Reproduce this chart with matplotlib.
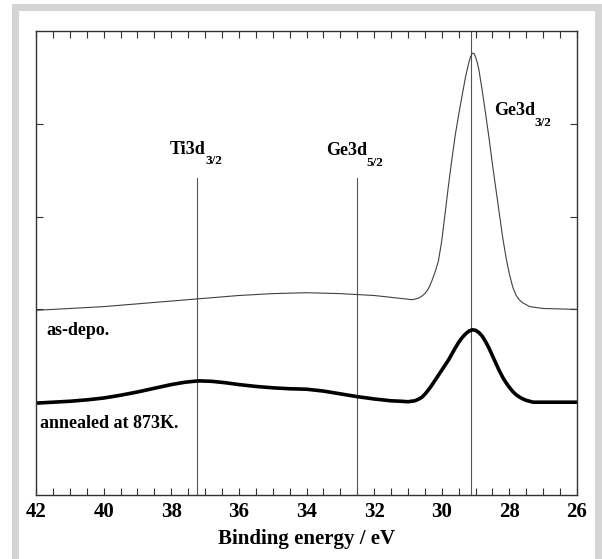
import matplotlib
matplotlib.use("Agg")
import matplotlib.pyplot as plt
from matplotlib.patches import Rectangle

plt.rcParams['font.family'] = ['Liberation Serif', 'DejaVu Serif']
plt.rcParams['font.weight'] = 'bold'

# as-deposited spectrum (binding energy in eV, intensity in arb. units)
asdepo_e = [42.0, 41.0, 40.0, 39.0, 38.0, 37.0, 36.0, 35.0, 34.0, 33.0,
            32.5, 32.0, 31.5, 31.0, 30.9, 30.8, 30.7, 30.6, 30.5, 30.4,
            30.3, 30.2, 30.1, 30.0, 29.9, 29.8, 29.7, 29.6, 29.5, 29.4,
            29.3, 29.2, 29.15, 29.1, 29.05, 29.0, 28.95, 28.9, 28.8, 28.7,
            28.6, 28.5, 28.4, 28.3, 28.2, 28.1, 28.0, 27.9, 27.8, 27.7,
            27.6, 27.5, 27.4, 27.2, 27.0, 26.0]
asdepo_i = [1.99, 2.01, 2.03, 2.06, 2.09, 2.12, 2.15, 2.17, 2.18, 2.17,
            2.16, 2.15, 2.13, 2.11, 2.105, 2.11, 2.12, 2.14, 2.17, 2.22,
            2.30, 2.40, 2.52, 2.74, 3.04, 3.34, 3.62, 3.88, 4.10, 4.30,
            4.50, 4.66, 4.72, 4.76, 4.76, 4.72, 4.66, 4.58, 4.35, 4.10,
            3.84, 3.56, 3.30, 3.04, 2.78, 2.56, 2.38, 2.24, 2.15, 2.10,
            2.07, 2.05, 2.03, 2.02, 2.01, 2.00]

# annealed at 873 K
anneal_e = [42.0, 41.0, 40.5, 40.0, 39.5, 39.0, 38.5, 38.0, 37.6, 37.2,
            36.8, 36.4, 36.0, 35.5, 35.0, 34.5, 34.0, 33.5, 33.0, 32.5,
            32.0, 31.5, 31.2, 31.0, 30.9, 30.8, 30.7, 30.6, 30.5, 30.4,
            30.3, 30.2, 30.1, 30.0, 29.9, 29.8, 29.7, 29.6, 29.5, 29.4,
            29.3, 29.2, 29.1, 29.0, 28.9, 28.8, 28.7, 28.6, 28.5, 28.4,
            28.3, 28.2, 28.1, 28.0, 27.9, 27.8, 27.7, 27.6, 27.5, 27.4,
            27.3, 26.0]
anneal_i = [0.99, 1.01, 1.025, 1.045, 1.075, 1.11, 1.15, 1.19, 1.215, 1.23,
            1.225, 1.21, 1.19, 1.17, 1.155, 1.145, 1.14, 1.12, 1.09, 1.06,
            1.035, 1.015, 1.01, 1.005, 1.01, 1.015, 1.03, 1.05, 1.085, 1.13,
            1.18, 1.235, 1.29, 1.345, 1.40, 1.455, 1.52, 1.585, 1.645, 1.695,
            1.735, 1.765, 1.78, 1.775, 1.75, 1.71, 1.65, 1.58, 1.50, 1.42,
            1.34, 1.27, 1.21, 1.16, 1.115, 1.08, 1.055, 1.035, 1.02, 1.01,
            1.00, 1.00]

# reference peak positions
peak_names = ['Ti3d', 'Ge3d', 'Ge3d']
peak_subs = ['3/2', '5/2', '3/2']
peak_pos = [37.25, 32.5, 29.15]
peak_line_top = [3.42, 3.42, 5.0]
peak_label_xy = [(38.04, 3.68), (33.42, 3.66), (28.45, 4.09)]

fig = plt.figure(figsize=(6.02, 5.59), dpi=100)
fig.patches.append(Rectangle((0.0241, -0.0036), 0.9934 - 0.0241, 0.9875 + 0.0036,
                             transform=fig.transFigure, fill=False,
                             edgecolor='#d4d4d4', linewidth=5.0, zorder=0))

ax = fig.add_axes([0.0598, 0.1145, 0.8987, 0.83])

for pos, top in zip(peak_pos, peak_line_top):
    ax.plot([pos, pos], [0, top], color='#555555', lw=0.8)

ax.plot(asdepo_e, asdepo_i, color='#404040', lw=0.8)
ax.plot(anneal_e, anneal_i, color='black', lw=2.6, solid_joinstyle='round')

for name, sub, (tx, ty) in zip(peak_names, peak_subs, peak_label_xy):
    t = ax.text(tx, ty, name, fontsize=13, fontweight='bold', ha='left', va='baseline')
    ax.annotate(sub, xy=(1, 0), xycoords=t, xytext=(-0.5, -4.5),
                textcoords='offset points', fontsize=9.5, fontweight='bold',
                ha='left', va='baseline')

ax.text(41.70, 1.72, 'as-depo.', fontsize=13, fontweight='bold', ha='left', va='baseline')
ax.text(41.88, 0.72, 'annealed at 873K.', fontsize=13, fontweight='bold', ha='left', va='baseline')

ax.set_xlim(42, 26)
ax.set_ylim(0, 5)
ax.set_xticks(range(42, 25, -2))
ax.set_xticks([42 - 0.5 * k for k in range(33)], minor=True)
ax.set_yticks([1, 2, 3, 4])
ax.tick_params(axis='x', which='both', direction='in', top=True, length=5,
               width=0.8, color='#333333', labelsize=15, pad=5)
ax.tick_params(axis='y', direction='in', right=True, length=5, width=0.8,
               color='#333333', labelleft=False)
for sp in ax.spines.values():
    sp.set_color('#333333')
    sp.set_linewidth(1.0)
for lab in ax.get_xticklabels():
    lab.set_fontweight('bold')

ax.set_xlabel('Binding energy / eV', fontsize=15, fontweight='bold', labelpad=5)

fig.savefig('out.png', dpi=100)
